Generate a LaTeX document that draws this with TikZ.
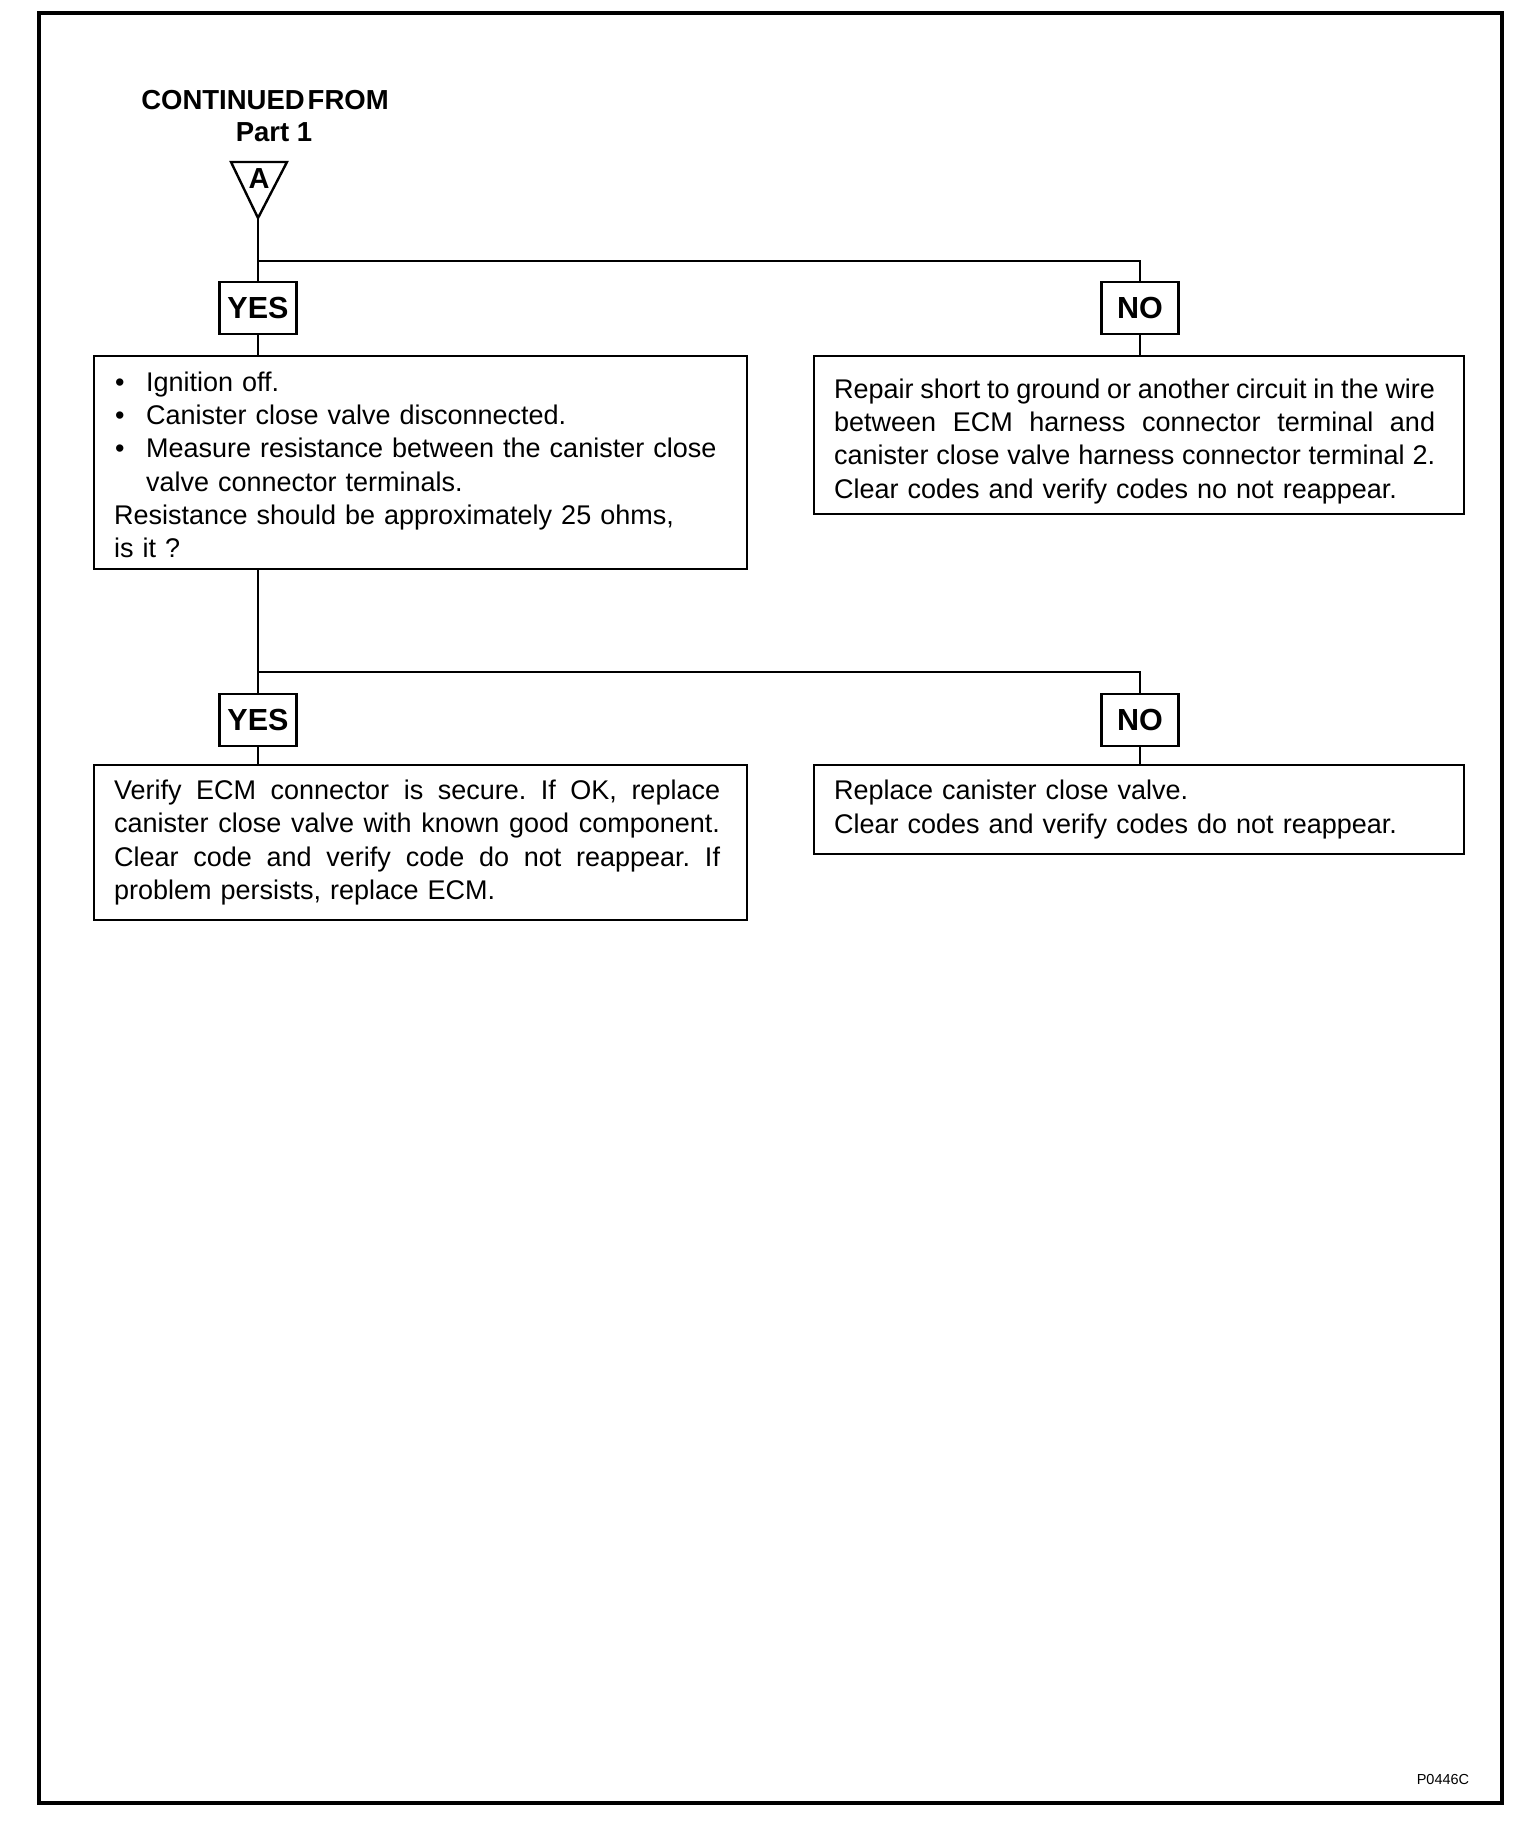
\documentclass[tikz,border=0pt]{standalone}
\usepackage{fontspec}
\setmainfont{Liberation Sans}
\newcommand\jl[2]{\makebox[#1][s]{\spaceskip=0.278em plus 1fil minus 0.12em\relax\xspaceskip=\spaceskip #2}}
\begin{document}
\begin{tikzpicture}[x=1pt,y=-1pt,
  box/.style={draw, line width=2.2pt, rectangle, anchor=north west, inner xsep=20pt, inner ysep=6pt,
    font=\fontsize{27}{33.2}\selectfont, align=left},
  lbl/.style={draw, line width=2.2pt, minimum width=77pt, minimum height=52pt, inner sep=0pt,
    font=\bfseries\fontsize{30.5}{32}\selectfont},
  wire/.style={line width=2pt},
  head/.style={font=\bfseries\fontsize{27.5}{30}\selectfont, inner sep=0pt}]
\useasboundingbox (0,0) rectangle (1536,1844);
% outer frame
\draw[line width=3.4pt] (39,13) rectangle (1502,1803);
% header
\node[head] (cont) at (265,100) {CONTINUED\hspace{3pt}FROM};
\node[head] (part) at (274,132) {Part 1};
% connector triangle
\draw[line width=2.4pt, line join=miter] (231,162) -- (287,162) -- (258,218) -- cycle;
\node[font=\bfseries\fontsize{29}{29}\selectfont, inner sep=0pt] (A) at (259,179) {A};
\coordinate (apex) at (258,218);
% first decision labels
\node[lbl] (yes1) at (258,308) {YES};
\node[lbl] (no1) at (1140,308) {NO};
% first row boxes
\node[box, text width=613pt, minimum height=213pt] (q1) at (93,355)
  {\rule{0pt}{24pt}\makebox[32pt][l]{\hspace{1pt}\textbullet}Ignition off.\\
   \makebox[32pt][l]{\hspace{1pt}\textbullet}Canister close valve disconnected.\\
   \makebox[32pt][l]{\hspace{1pt}\textbullet}Measure resistance between the canister close\\
   \hspace*{32pt}valve connector terminals.\\
   Resistance should be approximately 25 ohms,\\
   is it ?};
\node[box, text width=610pt, minimum height=158pt] (r1) at (813,355)
  {\rule{0pt}{32pt}\jl{601pt}{Repair short to ground or another circuit in the wire}\\
   \jl{601pt}{between ECM harness connector terminal and}\\
   \jl{601pt}{canister close valve harness connector terminal 2.}\\
   Clear codes and verify codes no not reappear.};
% second decision labels
\node[lbl] (yes2) at (258,720) {YES};
\node[lbl] (no2) at (1140,720) {NO};
% second row boxes
\node[box, text width=613pt, minimum height=155pt] (r2) at (93,764)
  {\jl{606pt}{Verify ECM connector is secure. If OK, replace}\\
   \jl{606pt}{canister close valve with known good component.}\\
   \jl{606pt}{Clear code and verify code do not reappear. If}\\
   problem persists, replace ECM.};
\node[box, text width=610pt, minimum height=89pt] (r3) at (813,764)
  {Replace canister close valve.\\
   Clear codes and verify codes do not reappear.};
% footer code
\node[font=\fontsize{14.5}{15}\selectfont, inner sep=0pt] (code) at (1443,1779) {P0446C};
% connectors
\coordinate (j1) at (258,261);
\coordinate (j2) at (258,672);
\draw[wire] (apex) -- (yes1.north);
\draw[wire] (j1) -| (no1.north);
\draw[wire] (yes1.south) -- (yes1.south |- q1.north);
\draw[wire] (no1.south) -- (no1.south |- r1.north);
\draw[wire] (yes1.south |- q1.south) -- (yes2.north);
\draw[wire] (j2) -| (no2.north);
\draw[wire] (yes2.south) -- (yes2.south |- r2.north);
\draw[wire] (no2.south) -- (no2.south |- r3.north);
\end{tikzpicture}
\end{document}
